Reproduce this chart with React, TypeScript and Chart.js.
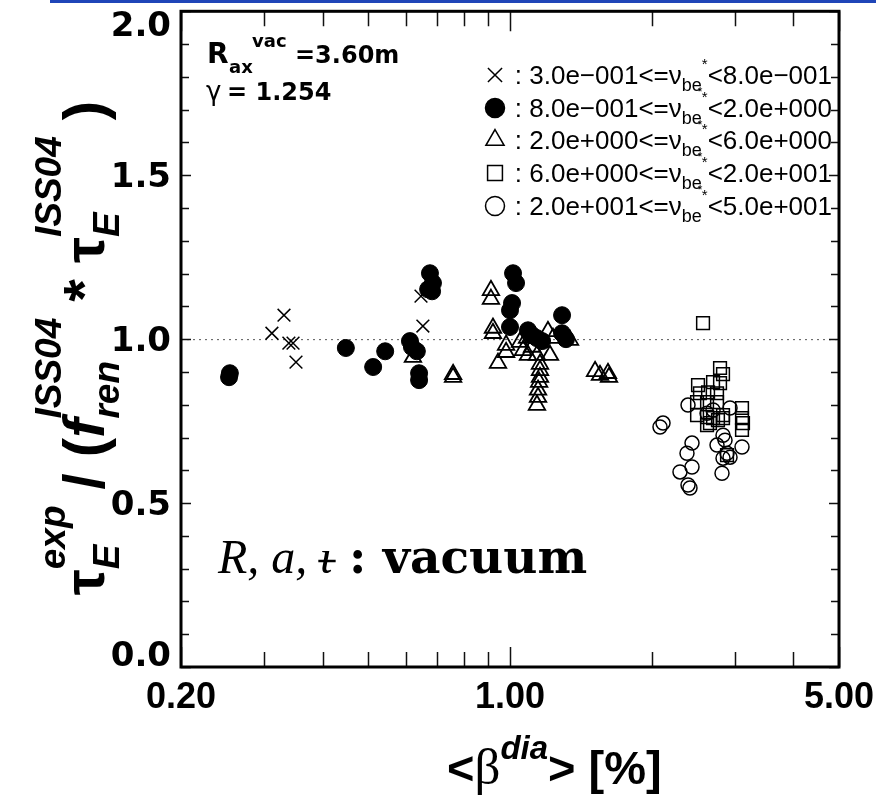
import React, { useEffect, useRef } from 'react';
import { Chart, registerables } from 'chart.js';
import { drawPoint } from 'chart.js/helpers';
Chart.register(...registerables);

// ---- data ----
const crossBeta = [0.331, 0.312, 0.339, 0.346, 0.351, 0.647, 0.653];
const crossTau = [1.073, 1.018, 0.988, 0.988, 0.930, 1.131, 1.040];

const dotBeta = [0.253, 0.254, 0.448, 0.512, 0.543, 0.613, 0.619, 0.634, 0.641, 0.641, 0.676, 0.686, 0.683, 0.670, 1.015, 1.030, 1.010, 1.000, 1.000, 1.092, 1.114, 1.141, 1.170, 1.290, 1.290, 1.315];
const dotTau = [0.884, 0.896, 0.973, 0.915, 0.963, 0.994, 0.976, 0.963, 0.896, 0.875, 1.201, 1.171, 1.146, 1.152, 1.201, 1.171, 1.110, 1.088, 1.037, 1.027, 1.012, 1.003, 0.994, 1.073, 1.018, 1.000];

const triBeta = [0.622, 0.757, 0.757, 0.911, 0.911, 0.920, 0.920, 0.981, 0.981, 0.943, 1.050, 1.066, 1.087, 1.092, 1.114, 1.141, 1.204, 1.216, 1.234, 1.341, 1.158, 1.158, 1.158, 1.153, 1.147, 1.147, 1.141, 1.516, 1.553, 1.615, 1.623];
const triTau = [0.945, 0.893, 0.884, 1.149, 1.122, 1.034, 1.018, 0.982, 0.960, 0.927, 0.991, 0.966, 1.003, 0.951, 0.976, 0.951, 1.024, 0.951, 1.003, 0.997, 0.924, 0.905, 0.884, 0.869, 0.845, 0.823, 0.799, 0.902, 0.890, 0.896, 0.884];

const sqBeta = [2.571, 2.794, 2.835, 2.509, 2.700, 2.794, 2.533, 2.635, 2.753, 2.497, 2.622, 2.753, 2.497, 2.622, 2.700, 2.766, 2.835, 2.660, 2.622, 3.111, 3.111, 3.126, 3.111, 2.891, 2.835];
const sqTau = [1.049, 0.912, 0.893, 0.860, 0.869, 0.866, 0.835, 0.838, 0.835, 0.808, 0.808, 0.808, 0.768, 0.762, 0.759, 0.753, 0.759, 0.744, 0.738, 0.790, 0.759, 0.744, 0.723, 0.646, 0.768];

const ringBeta = [2.389, 2.083, 2.114, 2.436, 2.377, 2.436, 2.297, 2.389, 2.412, 2.934, 2.835, 2.753, 2.863, 2.891, 2.934, 2.835, 2.821, 3.111, 2.700, 2.622];
const ringTau = [0.799, 0.732, 0.744, 0.683, 0.652, 0.610, 0.595, 0.555, 0.546, 0.790, 0.707, 0.677, 0.692, 0.652, 0.640, 0.637, 0.591, 0.671, 0.784, 0.774];

const legendLow = ['3.0e\u2212001', '8.0e\u2212001', '2.0e+000', '6.0e+000', '2.0e+001'];
const legendHigh = ['8.0e\u2212001', '2.0e+000', '6.0e+000', '2.0e+001', '5.0e+001'];

const xMajorTicks = [0.2, 1, 5];
const xMinorTicks = [0.3, 0.4, 0.5, 0.6, 0.7, 0.8, 0.9, 2, 3, 4];
const yMajorTicks = [0, 0.5, 1, 1.5, 2];
const yMinorTicks = [0.1, 0.2, 0.3, 0.4, 0.6, 0.7, 0.8, 0.9, 1.1, 1.2, 1.3, 1.4, 1.6, 1.7, 1.8, 1.9];
const referenceLevel = 1.0;

const pts = (xs: number[], ys: number[]) => xs.map((x, i) => ({ x, y: ys[i] }));

type Seg = { t: string; f: string; dy?: number } | { sub: { t: string; f: string; dy: number }; sup: { t: string; f: string; dy: number } };

function rich(ctx: CanvasRenderingContext2D, segs: Seg[], x: number, y: number, draw: boolean) {
  let cx = x;
  for (const s of segs) {
    if ('sub' in s) {
      ctx.font = s.sub.f;
      const w1 = ctx.measureText(s.sub.t).width;
      if (draw) ctx.fillText(s.sub.t, cx, y + s.sub.dy);
      ctx.font = s.sup.f;
      const w2 = ctx.measureText(s.sup.t).width;
      if (draw) ctx.fillText(s.sup.t, cx, y + s.sup.dy);
      cx += Math.max(w1, w2);
    } else {
      ctx.font = s.f;
      if (draw) ctx.fillText(s.t, cx, y + (s.dy || 0));
      cx += ctx.measureText(s.t).width;
    }
  }
  return cx - x;
}

const SANS = '"Liberation Sans", Arial, sans-serif';
const DJ = '"DejaVu Sans", sans-serif';

const decor = {
  id: 'decor',
  beforeDatasetsDraw(chart: any) {
    const ctx: CanvasRenderingContext2D = chart.ctx;
    const { left, right } = chart.chartArea;
    const ys = chart.scales.y;
    const yy = ys.getPixelForValue(referenceLevel);
    ctx.save();
    ctx.strokeStyle = '#555';
    ctx.lineWidth = 1;
    ctx.setLineDash([2, 4]);
    ctx.beginPath();
    ctx.moveTo(left, yy + 0.5);
    ctx.lineTo(right, yy + 0.5);
    ctx.stroke();
    ctx.restore();
  },
  afterDatasetsDraw(chart: any) {
    const ctx: CanvasRenderingContext2D = chart.ctx;
    const { left, right, top, bottom } = chart.chartArea;
    const xs = chart.scales.x;
    const ys = chart.scales.y;
    ctx.save();
    // blue rule at very top of the page
    ctx.fillStyle = '#1f45b8';
    ctx.fillRect(50, 0, 826, 3);

    // ticks
    ctx.strokeStyle = '#111';
    ctx.lineWidth = 1.5;
    ctx.beginPath();
    const xt = (v: number, len: number) => {
      const p = Math.round(xs.getPixelForValue(v)) + 0.5;
      ctx.moveTo(p, bottom); ctx.lineTo(p, bottom - len);
      ctx.moveTo(p, top); ctx.lineTo(p, top + len);
    };
    xMinorTicks.forEach(v => xt(v, 15));
    xMajorTicks.forEach(v => xt(v, 20));
    const yt = (v: number, len: number) => {
      const p = Math.round(ys.getPixelForValue(v)) + 0.5;
      ctx.moveTo(left, p); ctx.lineTo(left + len, p);
      ctx.moveTo(right, p); ctx.lineTo(right - len, p);
    };
    yMinorTicks.forEach(v => yt(v, 8));
    yMajorTicks.forEach(v => yt(v, 10));
    ctx.stroke();

    // frame
    ctx.lineWidth = 3;
    ctx.strokeStyle = '#000';
    ctx.strokeRect(left, top, right - left, bottom - top);

    ctx.fillStyle = '#000';
    ctx.textBaseline = 'alphabetic';
    // y tick labels
    ctx.font = `bold 34px ${DJ}`;
    ctx.textAlign = 'right';
    yMajorTicks.forEach(v => {
      let p = ys.getPixelForValue(v);
      p = Math.max(top + 13, Math.min(bottom - 13, p));
      ctx.fillText(v.toFixed(1), 171, p + 12);
    });
    // x tick labels
    ctx.font = `bold 36px ${SANS}`;
    ctx.textAlign = 'center';
    xMajorTicks.forEach(v => {
      ctx.fillText(v.toFixed(2), xs.getPixelForValue(v), 708);
    });
    ctx.textAlign = 'left';

    // x title
    const xSegs: Seg[] = [
      { t: '<', f: `bold 47px ${SANS}` },
      { t: '\u03b2', f: '51px "Liberation Serif", serif' },
      { t: 'dia', f: `italic bold 33px ${SANS}`, dy: -25 },
      { t: '> [%]', f: `bold 47px ${SANS}` },
    ];
    rich(ctx, xSegs, 447, 784, true);

    // y title (rotated)
    const B = `bold 58px ${SANS}`;
    const S = `italic bold 37px ${SANS}`;
    const ySegs: Seg[] = [
      { t: '\u03c4', f: B },
      { sub: { t: 'E', f: S, dy: 15 }, sup: { t: 'exp', f: S, dy: -39 } },
      { t: ' / (', f: B },
      { t: 'f', f: `italic bold 58px ${SANS}` },
      { sub: { t: 'ren', f: S, dy: 15 }, sup: { t: 'ISS04', f: S, dy: -43 } },
      { t: ' * ', f: B },
      { t: '\u03c4', f: B },
      { sub: { t: 'E', f: S, dy: 15 }, sup: { t: 'ISS04', f: S, dy: -43 } },
      { t: ' )', f: B },
    ];
    ctx.save();
    ctx.translate(104, 348);
    ctx.rotate(-Math.PI / 2);
    const W = rich(ctx, ySegs, 0, 0, false);
    rich(ctx, ySegs, -W / 2, 0, true);
    ctx.restore();

    // annotation top-left
    const A = `bold 24px ${DJ}`;
    ctx.font = `bold 28px ${DJ}`;
    ctx.fillText('R', 207, 63);
    ctx.font = `bold 18px ${DJ}`;
    ctx.fillText('ax', 229, 73);
    ctx.fillText('vac', 252, 47);
    ctx.font = A;
    ctx.fillText('=3.60m', 295, 63);
    ctx.font = `26px ${DJ}`;
    ctx.fillText('\u03b3', 206, 100);
    ctx.font = A;
    ctx.fillText('= 1.254', 227, 100);

    // R, a, iota : vacuum
    const I = 'italic 48px "Liberation Serif", serif';
    let cx = 218;
    const by = 573;
    cx += rich(ctx, [{ t: 'R, a, ', f: I }], cx, by, true);
    ctx.font = I;
    const iw = ctx.measureText('\u03b9').width;
    ctx.fillText('\u03b9', cx, by);
    ctx.lineWidth = 2.5;
    ctx.beginPath();
    ctx.moveTo(cx - 1, by - 12);
    ctx.lineTo(cx + iw + 3, by - 12);
    ctx.stroke();
    cx += iw;
    rich(ctx, [{ t: ' : vacuum', f: 'bold 47px "DejaVu Serif", serif' }], cx, by, true);

    // legend
    const styles = ['crossRot', 'circle', 'triangle', 'rect', 'circle'];
    const fills = [false, true, false, false, false];
    const rads = [10, 9.5, 10.5, 10.5, 9.5];
    const L = `26px ${SANS}`;
    for (let i = 0; i < 5; i++) {
      const ty = Math.round(ys.getPixelForValue(1.8 - i * 0.1));
      const base = ty + 7;
      const cy = base - 9;
      ctx.save();
      ctx.lineWidth = 1.5;
      ctx.strokeStyle = '#000';
      ctx.fillStyle = fills[i] ? '#000' : 'rgba(0,0,0,0)';
      drawPoint(ctx, { pointStyle: styles[i], radius: rads[i], borderWidth: 1.5, rotation: 0 } as any, 495, cy);
      ctx.restore();
      ctx.fillStyle = '#000';
      const segs: Seg[] = [
        { t: ': ' + legendLow[i] + '<=\u03bd', f: L },
        { sub: { t: 'be', f: `18px ${SANS}`, dy: 7 }, sup: { t: '', f: `18px ${SANS}`, dy: 0 } },
        { t: '*', f: `15px ${SANS}`, dy: -15 },
        { t: '<' + legendHigh[i], f: L },
      ];
      const w = rich(ctx, segs, 510, base, false);
      const sx = 832 - w;
      rich(ctx, segs, sx, base, true);
      if (i < 4) {
        ctx.font = L;
        const hw = ctx.measureText('<' + legendHigh[i]).width;
        ctx.font = `12px ${SANS}`;
        ctx.fillText('*', 832 - hw - 10, base + 12);
      }
    }
    ctx.restore();
  },
};

export default function App() {
  const ref = useRef<HTMLCanvasElement | null>(null);
  useEffect(() => {
    if (!ref.current) return;
    const common = { borderColor: '#000', showLine: false };
    const chart = new Chart(ref.current, {
      type: 'scatter',
      data: {
        datasets: [
          { ...common, label: 'x', data: pts(crossBeta, crossTau), pointStyle: 'crossRot', pointRadius: 9, borderWidth: 1.5, backgroundColor: 'rgba(0,0,0,0)' },
          { ...common, label: 'dot', data: pts(dotBeta, dotTau), pointStyle: 'circle', pointRadius: 8.5, borderWidth: 1, backgroundColor: '#000' },
          { ...common, label: 'tri', data: pts(triBeta, triTau), pointStyle: 'triangle', pointRadius: 9.5, borderWidth: 1.8, backgroundColor: 'rgba(0,0,0,0)' },
          { ...common, label: 'sq', data: pts(sqBeta, sqTau), pointStyle: 'rect', pointRadius: 9, borderWidth: 1.5, backgroundColor: 'rgba(0,0,0,0)' },
          { ...common, label: 'ring', data: pts(ringBeta, ringTau), pointStyle: 'circle', pointRadius: 7, borderWidth: 1.5, backgroundColor: 'rgba(0,0,0,0)' },
        ],
      } as any,
      options: {
        animation: false,
        responsive: false,
        maintainAspectRatio: false,
        devicePixelRatio: 1,
        layout: { padding: { left: 181, right: 37, top: 11, bottom: 132 } },
        plugins: { legend: { display: false }, tooltip: { enabled: false } },
        scales: {
          x: { type: 'logarithmic', min: 0.2, max: 5, display: false },
          y: { type: 'linear', min: 0, max: 2, display: false },
        },
      } as any,
      plugins: [decor],
    });
    return () => chart.destroy();
  }, []);
  return (
    <div style={{ position: 'absolute', left: 0, top: 0, width: 876, height: 799, background: '#fff' }}>
      <canvas ref={ref} width={876} height={799} style={{ display: 'block', width: 876, height: 799 }} />
    </div>
  );
}
